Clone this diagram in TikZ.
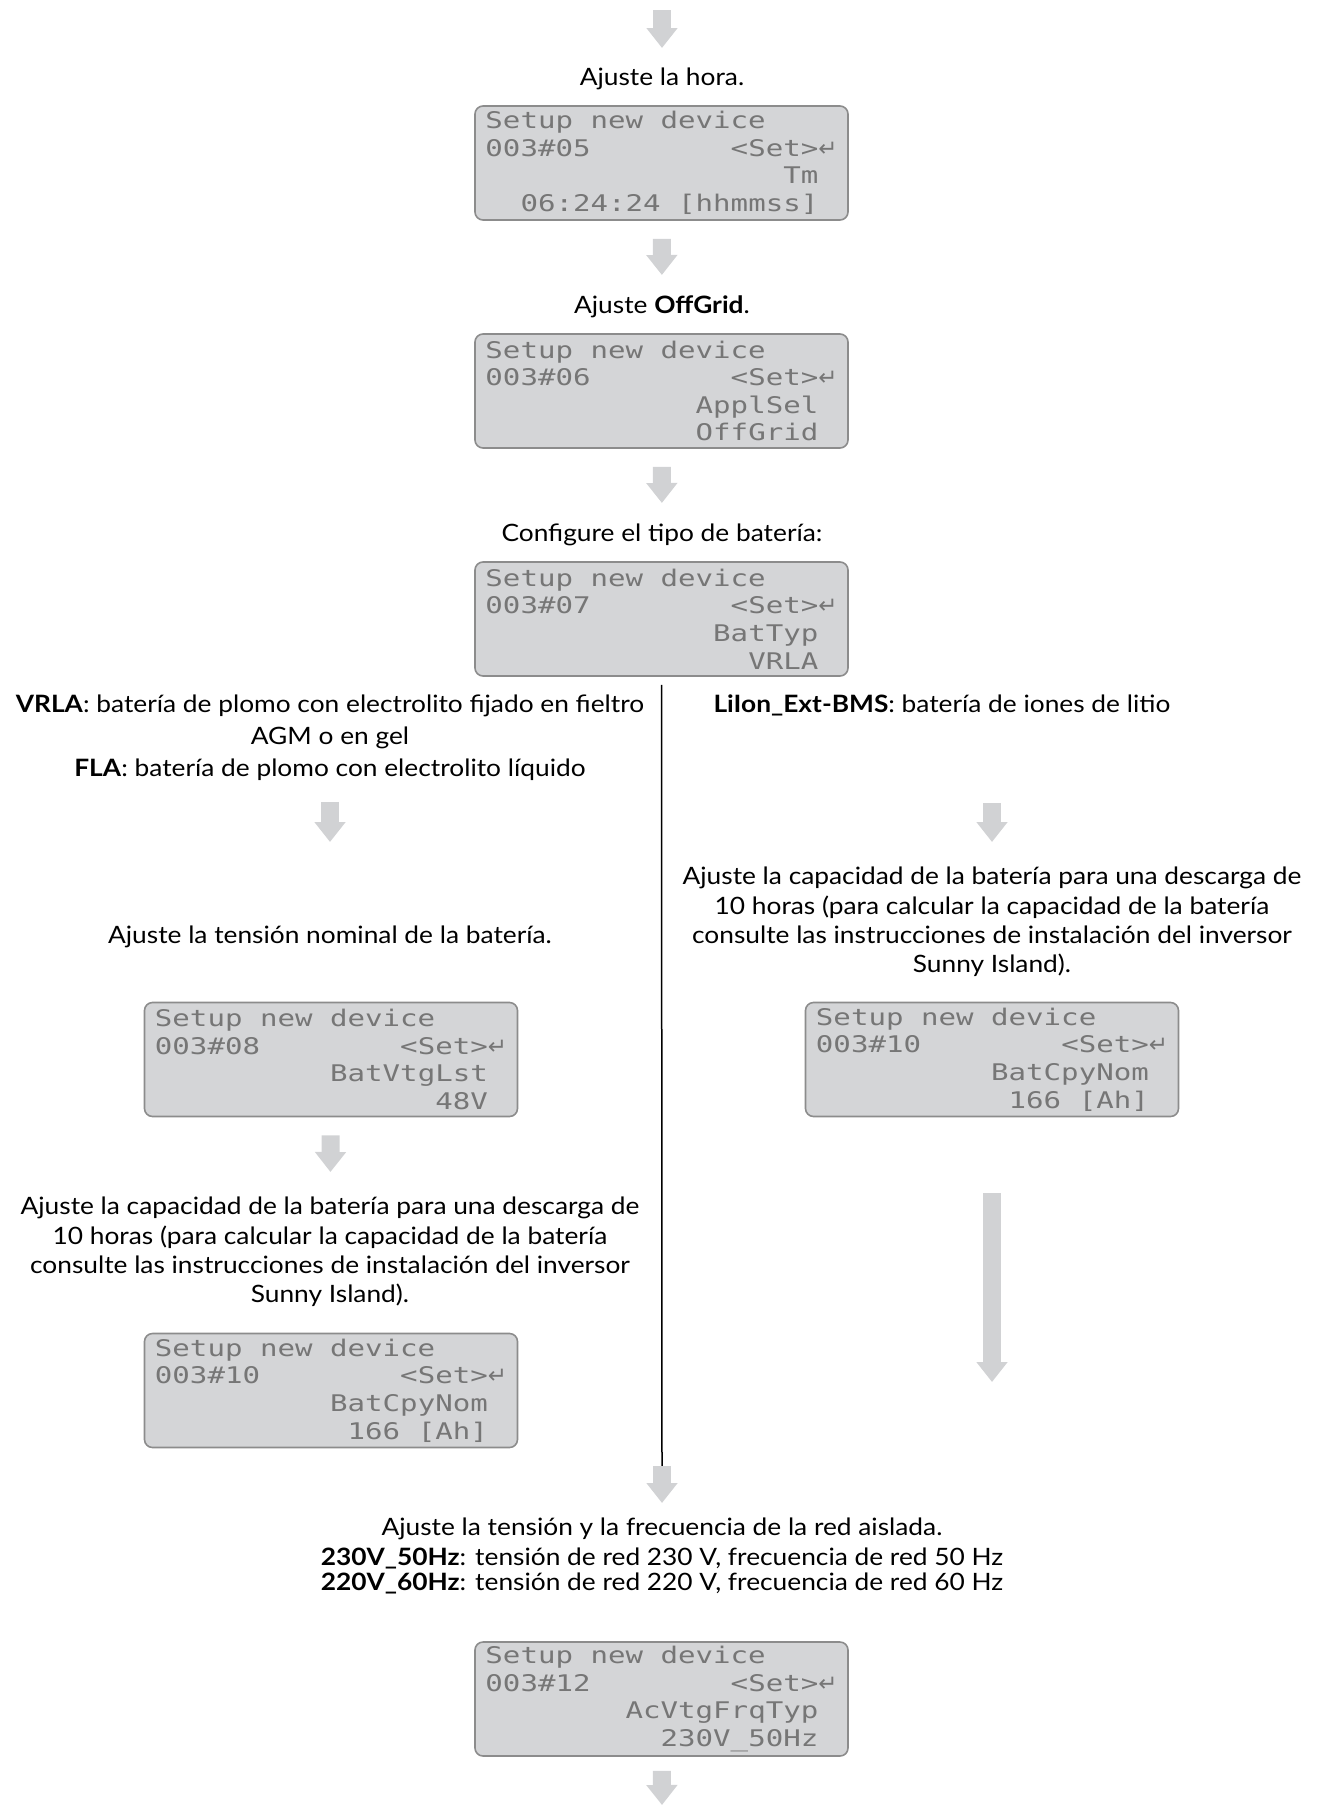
\documentclass[tikz,border=0pt]{standalone}
\usepackage{fontspec}
\setmainfont[FakeStretch=1.10]{Lato}
\newfontfamily\lcdfont[FakeStretch=1.27]{DejaVu Sans Mono}
\newfontfamily\symfont{DejaVu Sans}
\usepackage{xcolor}
\usetikzlibrary{arrows.meta}
\definecolor{lcdfill}{HTML}{D4D5D7}
\definecolor{lcdedge}{HTML}{8C8C8C}
\definecolor{lcdink}{HTML}{767676}
\definecolor{flowgray}{HTML}{D1D2D4}

\begin{document}
\begin{tikzpicture}[
  x=1bp, y=-1bp,
  txt/.style={inner sep=0, anchor=north, align=center, font=\fontsize{24}{29.5}\selectfont},
  lcd/.style={draw=lcdedge, line width=1.6bp, fill=lcdfill, rounded corners=8bp, minimum width=373bp, minimum height=114bp, inner sep=0, align=left, text=lcdink, font=\lcdfont\fontsize{23}{27.7}\selectfont},
  flow/.style={draw=flowgray, line width=18bp, -{Triangle[width=30bp,length=20bp]}},
  branch/.style={draw=black, line width=1.5bp}
]
\useasboundingbox (0,0) rectangle (1317,1805);

% common trunk
\coordinate (start) at (662,10);
\node[txt] (hora) at (662,68) {Ajuste la hora.};
\node[lcd] (lcd1) at (661.5,163) {Setup new device\\003\#05~~~~~~~~<Set>{\symfont ↵}\\~~~~~~~~~~~~~~~~~Tm\\~~06:24:24 [hhmmss]};
\node[txt] (offgrid) at (662,296) {Ajuste \textbf{OffGrid}.};
\node[lcd] (lcd2) at (661.5,391) {Setup new device\\003\#06~~~~~~~~<Set>{\symfont ↵}\\~~~~~~~~~~~~ApplSel\\~~~~~~~~~~~~OffGrid};
\node[txt] (battype) at (662,524) {Configure el tipo de batería:};
\node[lcd] (lcd3) at (661.5,619) {Setup new device\\003\#07~~~~~~~~<Set>{\symfont ↵}\\~~~~~~~~~~~~~BatTyp\\~~~~~~~~~~~~~~~VRLA};

% lead-acid branch
\node[txt, font=\fontsize{24}{32}\selectfont] (vrla) at (330,695) {\textbf{VRLA}: batería de plomo con electrolito fijado en fieltro\\AGM o en gel\\\textbf{FLA}: batería de plomo con electrolito líquido};
\node[txt] (nomtxt) at (330,926) {Ajuste la tensión nominal de la batería.};
\node[lcd] (lcdL1) at (331,1059.5) {Setup new device\\003\#08~~~~~~~~<Set>{\symfont ↵}\\~~~~~~~~~~BatVtgLst\\~~~~~~~~~~~~~~~~48V};
\node[txt] (capL) at (330,1197) {Ajuste la capacidad de la batería para una descarga de\\10 horas (para calcular la capacidad de la batería\\consulte las instrucciones de instalación del inversor\\Sunny Island).};
\node[lcd] (lcdL2) at (331,1390.5) {Setup new device\\003\#10~~~~~~~~<Set>{\symfont ↵}\\~~~~~~~~~~BatCpyNom\\~~~~~~~~~~~166 [Ah]};

% lithium-ion branch
\node[txt] (lion) at (942,695) {\textbf{LiIon\_Ext-BMS}: batería de iones de litio};
\node[txt] (capR) at (992,867) {Ajuste la capacidad de la batería para una descarga de\\10 horas (para calcular la capacidad de la batería\\consulte las instrucciones de instalación del inversor\\Sunny Island).};
\node[lcd] (lcdR) at (992,1059.5) {Setup new device\\003\#10~~~~~~~~<Set>{\symfont ↵}\\~~~~~~~~~~BatCpyNom\\~~~~~~~~~~~166 [Ah]};
\coordinate (rarr) at (992,718);
\coordinate (rend) at (992,1382);

% joined again
\coordinate (merge) at (662,1466);
\node[txt] (tension) at (662,1518) {Ajuste la tensión y la frecuencia de la red aislada.};
\node[txt, font=\fontsize{24}{25}\selectfont] (grid) at (662,1548) {\textbf{230V\_50Hz}: tensión de red 230 V, frecuencia de red 50 Hz\\\textbf{220V\_60Hz}: tensión de red 220 V, frecuencia de red 60 Hz};
\node[lcd] (lcdB) at (661.5,1699) {Setup new device\\003\#12~~~~~~~~<Set>{\symfont ↵}\\~~~~~~~~AcVtgFrqTyp\\~~~~~~~~~~230V\_50Hz};
\coordinate (end) at (662,1805);

\draw[flow, shorten >=20bp] (start) -- (hora);
\draw[flow, shorten <=18bp, shorten >=21bp] (lcd1) -- (offgrid);
\draw[flow, shorten <=18bp, shorten >=21bp] (lcd2) -- (battype);
\draw[branch, shorten <=8bp] (lcd3) -- (merge);
\draw[flow, shorten <=21bp, shorten >=84bp] (vrla) -- (nomtxt);
\draw[flow, shorten <=18bp, shorten >=25bp] (lcdL1) -- (capL);
\draw[flow, shorten <=85bp, shorten >=25bp] (rarr) -- (capR);
\draw[flow, shorten <=76bp] (lcdR) -- (rend);
\draw[flow, shorten >=15bp] (merge) -- (tension);
\draw[flow, shorten <=14bp] (lcdB) -- (end);
\end{tikzpicture}
\end{document}
